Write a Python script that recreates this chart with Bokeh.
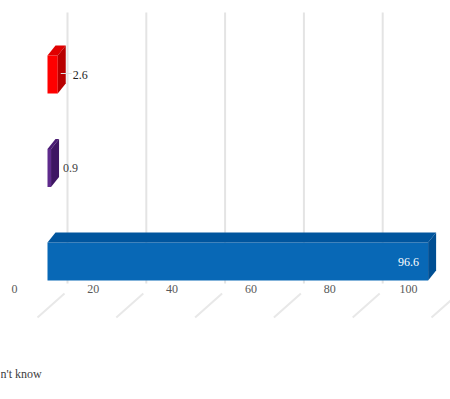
from bokeh.plotting import figure
from bokeh.models import Range1d
from bokeh.core.properties import value
from bokeh.embed import file_html
from bokeh.resources import INLINE

# ---- data ----
categories = ["Yes", "No", "Don't know"]
values = [96.6, 0.9, 2.6]
label_texts = ["96.6", "0.9", "2.6"]
front_colors = ["#0868b6", "#5e2a8c", "#ff0000"]
top_colors = ["#00559e", "#4a1d73", "#e00000"]
side_colors = ["#004f93", "#3e1563", "#b80000"]
tick_values = [0, 20, 40, 60, 80, 100]
tick_labels = ["0", "20", "40", "60", "80", "100"]
legend_label = "n't know"   # visible part of the (cropped) legend entry

# ---- geometry (data units) ----
PX_X = 3.94     # px per value unit
PX_Y = 93.5     # px per category step
x0_px, y0_px = 47, 138  # origin of bars in px (from left / from bottom)
xr = Range1d(-x0_px / PX_X, (450 - x0_px) / PX_X)
yr = Range1d(-y0_px / PX_Y, (399 - y0_px) / PX_Y)

def ypx(py_top):
    """convert px-from-top to y data"""
    return (399 - py_top - y0_px) / PX_Y

def xpx(px):
    return (px - x0_px) / PX_X

dx = 8 / PX_X
dy = 10 / PX_Y
h = 19 / PX_Y
wall = 20 / PX_X

p = figure(width=450, height=399, x_range=xr, y_range=yr,
           output_backend="svg", toolbar_location=None, min_border=0,
           x_axis_location=None, y_axis_location=None)
p.grid.visible = False
p.outline_line_color = None
p.background_fill_color = "white"

# back-wall gridlines
gx = [v + wall for v in tick_values]
p.segment(x0=gx, y0=[ypx(283)] * len(gx), x1=gx, y1=[ypx(12)] * len(gx),
          line_color="#e4e4e4", line_width=2)

# floor lines
fx0 = [v + xpx(37) for v in tick_values]
fx1 = [v + xpx(64) for v in tick_values]
p.segment(x0=fx0, y0=[ypx(317)] * len(fx0), x1=fx1, y1=[ypx(293)] * len(fx1),
          line_color="#e8e8e8", line_width=2)

# bars (3D)
centers = list(range(len(categories)))
tops_xs, tops_ys, sides_xs, sides_ys = [], [], [], []
for c, v in zip(centers, values):
    tops_xs.append([0, v, v + dx, dx])
    tops_ys.append([c + h, c + h, c + h + dy, c + h + dy])
    sides_xs.append([v, v, v + dx, v + dx])
    sides_ys.append([c - h, c + h, c + h + dy, c - h + dy])

p.quad(left=[0] * len(values), right=values,
       bottom=[c - h for c in centers], top=[c + h for c in centers],
       fill_color=front_colors, line_color=None)
p.patches(xs=tops_xs, ys=tops_ys, fill_color=top_colors, line_color=None)
p.patches(xs=sides_xs, ys=sides_ys, fill_color=side_colors, line_color=None)

# data labels
serif = value("Liberation Serif, serif")
# big bar label inside, white
p.text(x=[values[0] - xpx(47 + 9)], y=[centers[0]], text=[label_texts[0]],
       text_align="right", text_baseline="middle", text_color="white",
       text_font=serif, text_font_size="12px")
# small bar labels outside
small_off = [xpx(47 + 12), xpx(47 + 15)]
for i, off in zip([1, 2], small_off):
    p.text(x=[values[i] + off], y=[centers[i]], text=[label_texts[i]],
           text_align="left", text_baseline="middle",
           text_color="#404040" if i == 1 else "#222222",
           text_font=serif, text_font_size="12px")
# leader line for 2.6
p.segment(x0=[values[2] + xpx(47 + 3)], y0=[centers[2] + 1 / PX_Y],
          x1=[values[2] + xpx(47 + 14)], y1=[centers[2] + 1 / PX_Y],
          line_color="#e0e0e0", line_width=1)

# tick labels (floor front)
p.text(x=[v + xpx(14) for v in tick_values], y=[ypx(288)] * len(tick_values),
       text=tick_labels, text_align="center", text_baseline="middle",
       text_color="#595959", text_font=serif, text_font_size="12px")

# legend fragment (cropped legend entry at the left edge)
p.text(x=[xpx(0)], y=[ypx(373)], text=[legend_label], text_align="left",
       text_baseline="middle", text_color="#404040", text_font=serif,
       text_font_size="12px")

open("out.html", "w").write(file_html(p, INLINE))
